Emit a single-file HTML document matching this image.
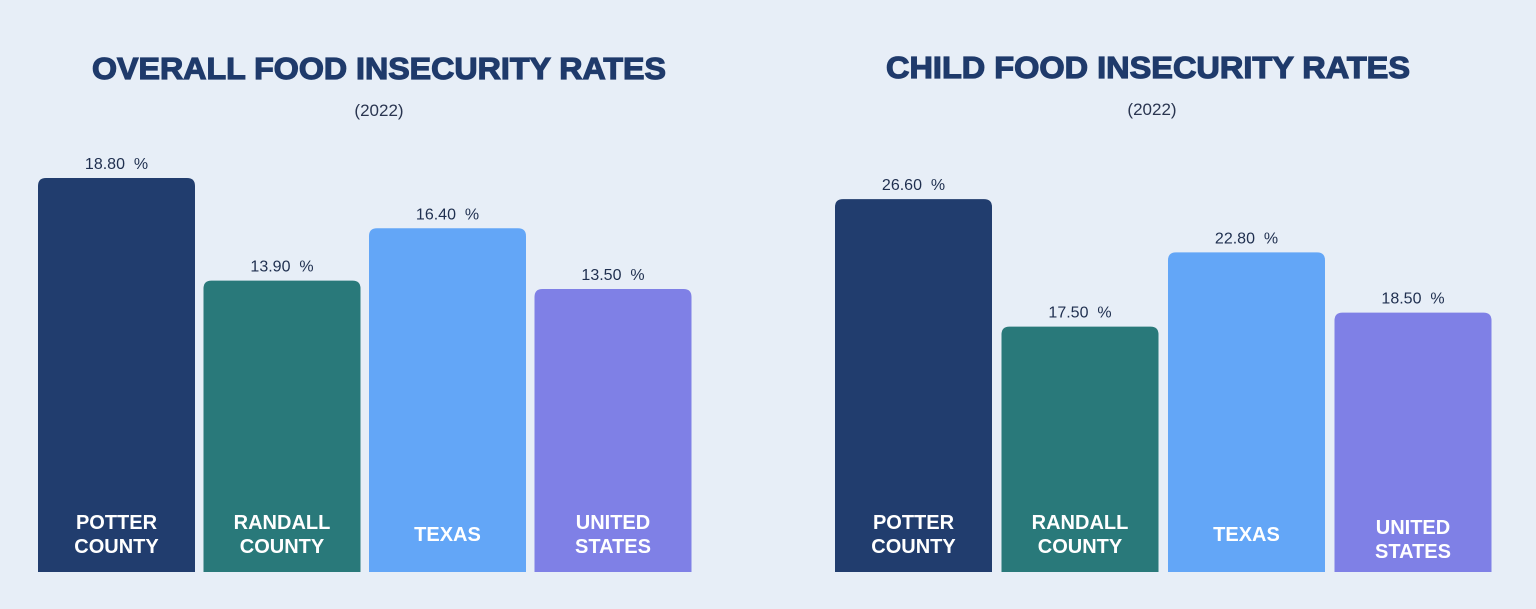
<!DOCTYPE html>
<html><head><meta charset="utf-8"><style>
body{margin:0;background:#e7eef7;width:1536px;height:609px;overflow:hidden;font-family:"Liberation Sans",sans-serif;}
svg{display:block}
</style></head><body>
<svg id="c" width="1536" height="609">
<rect width="1536" height="609" fill="#e7eef7"/>
<text x="379" y="79" text-anchor="middle" font-size="31" font-weight="bold" fill="#1f3a6b" stroke="#1f3a6b" stroke-width="1.2" textLength="574" lengthAdjust="spacingAndGlyphs">OVERALL FOOD INSECURITY RATES</text>
<text x="379" y="116" text-anchor="middle" font-size="17" fill="#2a3550">(2022)</text>
<text x="1148" y="78" text-anchor="middle" font-size="31" font-weight="bold" fill="#1f3a6b" stroke="#1f3a6b" stroke-width="1.2" textLength="524" lengthAdjust="spacingAndGlyphs">CHILD FOOD INSECURITY RATES</text>
<text x="1152" y="115" text-anchor="middle" font-size="17" fill="#2a3550">(2022)</text>
<g id="bars"></g>
</svg>
<script>
const categories=[["POTTER","COUNTY"],["RANDALL","COUNTY"],["TEXAS"],["UNITED","STATES"]];
const overallValues=[18.8,13.9,16.4,13.5];
const childValues=[26.6,17.5,22.8,18.5];
const colors=["#213d6e","#29797a","#63a6f7","#7f80e6"];
const ns="http://www.w3.org/2000/svg";
const g=document.getElementById('bars');
function mk(t,a){const e=document.createElementNS(ns,t);for(const k in a)e.setAttribute(k,a[k]);g.appendChild(e);return e;}
function chart(vals,x0,step,w,scale,name){
  const base=572;
  vals.forEach((v,i)=>{
    const h=v*scale,x=x0+i*step,y=base-h;
    const b=mk('path',{d:`M${x},${base}V${y+8}Q${x},${y} ${x+8},${y}H${x+w-8}Q${x+w},${y} ${x+w},${y+8}V${base}Z`,fill:colors[i]});
    
    
    const t=mk('text',{x:x+w/2,y:y-9,'text-anchor':'middle','font-size':16,fill:'#1f2f4f'});
    t.textContent=v.toFixed(2)+'\u00a0\u00a0%';
    
    
    const lines=categories[i];
    const cy=lines.length==1?541:(i==3&&name=='child'?534:529);
    lines.forEach((l,j)=>{
      const lt=mk('text',{x:x+w/2,y:cy+j*24,'text-anchor':'middle','font-size':20,'font-weight':'bold',fill:'#fff'});
      lt.textContent=l;
      
      
    });
  });
}
chart(overallValues,38,165.5,157,20.96,'overall');
chart(childValues,835,166.5,157,14.02,'child');
</script>
</body></html>
